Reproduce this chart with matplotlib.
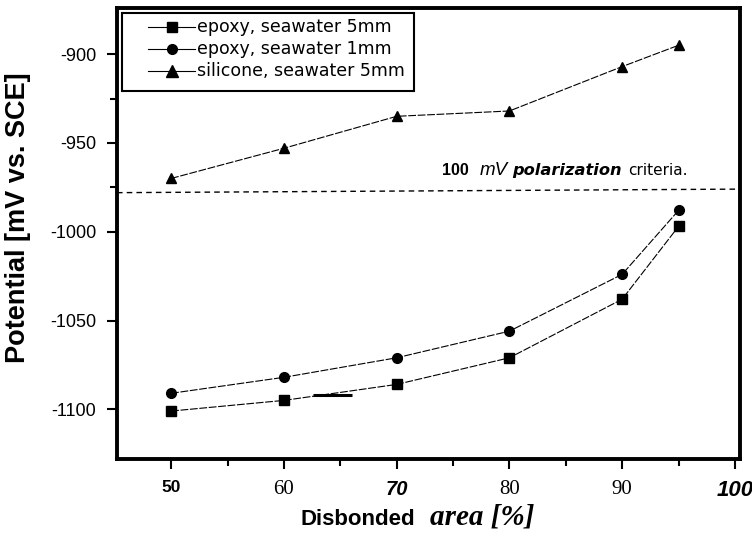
import numpy as np
import matplotlib
matplotlib.use('Agg')
import matplotlib.pyplot as plt
from matplotlib.lines import Line2D
from matplotlib.patches import Rectangle

# disbonded area [%]
area = [50, 60, 70, 80, 90, 95]

# potential [mV vs. SCE]
epoxy_5mm = [-1101, -1095, -1086, -1071, -1038, -997]
epoxy_1mm = [-1091, -1082, -1071, -1056, -1024, -988]
silicone_5mm = [-970, -953, -935, -932, -907, -895]

series_labels = ['epoxy, seawater 5mm', 'epoxy, seawater 1mm',
                 'silicone, seawater 5mm']
series_markers = ['s', 'o', '^']

# 100 mV criterion line (slightly tilted in the scan)
crit_x = [45.2, 100.45]
crit_y = [-978, -976]

# stray scan mark near the lower curves
stray_x = [62.6, 66.0]
stray_y = [-1092, -1092]

xticks = [50, 60, 70, 80, 90, 100]
xtick_labels = ['50', '60', '70', '80', '90', '100']
yticks = [-900, -950, -1000, -1050, -1100]

W, H = 752, 541


def px(x, y):
    # pixel position (from top-left) -> figure fraction
    return x / W, 1 - y / H


fig = plt.figure(figsize=(W / 100, H / 100), dpi=100)
ax = fig.add_axes([117 / W, 1 - 459 / H, 623 / W, 451 / H])

for vals, mk in zip([epoxy_5mm, epoxy_1mm, silicone_5mm], series_markers):
    ax.plot(area, vals, color='black', lw=0.8, ls=(0, (7, 1.5)),
            marker=mk, ms=7 if mk != '^' else 7.5)
ax.plot(crit_x, crit_y, color='black', lw=1.0, ls=(0, (4, 3)))
ax.plot(stray_x, stray_y, color='black', lw=2.2, solid_capstyle='butt')

ax.set_xlim(45.2, 100.45)
ax.set_ylim(-1128, -874)

for s in ax.spines.values():
    s.set_linewidth(2.8)

ax.set_xticks(xticks)
ax.set_xticks([55, 65, 75, 85, 95], minor=True)
ax.set_yticks(yticks)
ax.set_yticks([-925, -975], minor=True)
ax.tick_params(axis='both', which='major', direction='out', length=7,
               width=1.5, pad=8)
ax.tick_params(axis='both', which='minor', direction='out', length=5,
               width=1.5)
ax.set_yticklabels([str(v) for v in yticks], fontsize=13,
                   family='Liberation Sans')

# the scanned tick labels come in mixed fonts
ax.set_xticklabels(xtick_labels)
label_styles = [
    ('Liberation Sans', 'bold', 'normal', 12.5),
    ('Liberation Serif', 'normal', 'normal', 15),
    ('Liberation Sans', 'bold', 'italic', 14.5),
    ('Liberation Serif', 'normal', 'normal', 15),
    ('Liberation Serif', 'normal', 'normal', 15),
    ('Liberation Sans', 'bold', 'italic', 16),
]
for lab, (fam, wt, sty, sz) in zip(ax.get_xticklabels(), label_styles):
    lab.set_fontfamily(fam)
    lab.set_fontweight(wt)
    lab.set_fontstyle(sty)
    lab.set_fontsize(sz)

ax.set_ylabel('Potential [mV vs. SCE]', fontsize=19.5, fontweight='bold',
              family='Liberation Sans')
ax.yaxis.set_label_coords(-0.138, 0.535)

fig.text(*px(300, 525), 'Disbonded', fontsize=16, fontweight='bold',
         family='Liberation Sans', ha='left')
fig.text(*px(430, 525), 'area [%]', fontsize=21, fontweight='bold',
         style='italic', family='Liberation Serif', ha='left')

# criterion annotation
by = 175
fig.text(*px(442, by), '100', fontsize=11.5, fontweight='bold',
         family='Liberation Sans')
fig.text(*px(480, by), 'mV', fontsize=13.5, style='italic',
         family='Liberation Sans')
fig.text(*px(512, by), 'polarization', fontsize=11.7, style='italic',
         fontweight='bold', family='DejaVu Sans')
fig.text(*px(628, by), 'criteria.', fontsize=11, family='DejaVu Sans')

# legend, drawn by hand to keep the wide left padding of the original
fig.add_artist(Rectangle(px(122, 91), 292 / W, 78 / H, transform=fig.transFigure,
                         fill=False, edgecolor='black', lw=1.5))
for i, (lab, mk) in enumerate(zip(series_labels, series_markers)):
    y = 27 + 22 * i
    fig.add_artist(Line2D([148 / W, 195 / W], [1 - y / H] * 2,
                          transform=fig.transFigure, color='black', lw=0.8))
    fig.add_artist(Line2D([172 / W], [1 - y / H], transform=fig.transFigure,
                          color='black', marker=mk,
                          ms=7 if mk != '^' else 8))
    fig.text(*px(197, y), lab, fontsize=12.5, family='DejaVu Sans',
             va='center')

fig.savefig('out.png', dpi=100)
